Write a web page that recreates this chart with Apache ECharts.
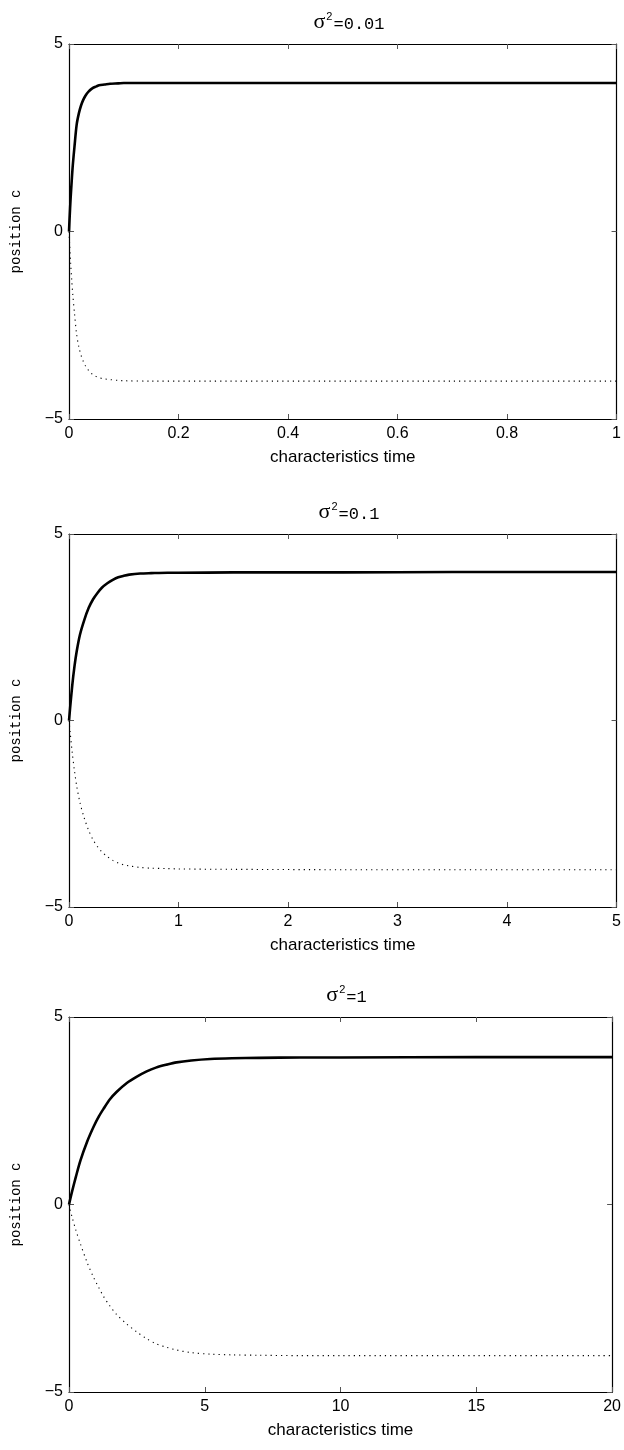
<!DOCTYPE html>
<html><head><meta charset="utf-8">
<script src="https://cdn.jsdelivr.net/npm/echarts@6/dist/echarts.min.js"></script>
<style>html,body{margin:0;padding:0;background:#fff}#c{width:624px;height:1450px}</style>
</head><body><div id="c"></div>
<script>
// ---- data ----
const sigmaLabels = ['0.01', '0.1', '1'];
const xMax = [1, 5, 20];
const xInterval = [0.2, 1, 5];
const yMin = -5, yMax = 5, yInterval = 5;
const xName = 'characteristics time';
const yName = 'position c';

const t1 = [0, 0.001, 0.003, 0.005, 0.007, 0.01, 0.014, 0.018, 0.022, 0.026, 0.03, 0.035, 0.04, 0.045, 0.05, 0.055, 0.065, 0.075, 0.09, 0.1, 0.15, 0.3, 0.5, 0.7, 1];
const s1 = [0, 0.33, 0.9, 1.36, 1.78, 2.26, 2.85, 3.15, 3.36, 3.51, 3.62, 3.72, 3.79, 3.84, 3.87, 3.9, 3.92, 3.94, 3.95, 3.96, 3.96, 3.96, 3.96, 3.96, 3.96];
const d1 = [0, -0.3, -0.85, -1.3, -1.7, -2.18, -2.75, -3.08, -3.3, -3.46, -3.58, -3.69, -3.77, -3.83, -3.87, -3.9, -3.93, -3.95, -3.97, -3.98, -3.99, -3.99, -3.99, -3.99, -3.99];

const t2 = [0, 0.01, 0.03, 0.05, 0.07, 0.1, 0.14, 0.18, 0.22, 0.26, 0.3, 0.35, 0.4, 0.45, 0.5, 0.55, 0.65, 0.75, 0.9, 1, 1.5, 2.5, 3.5, 5];
const s2 = [0, 0.33, 0.95, 1.45, 1.85, 2.3, 2.7, 3.02, 3.25, 3.42, 3.56, 3.68, 3.77, 3.84, 3.88, 3.91, 3.94, 3.95, 3.96, 3.96, 3.97, 3.97, 3.98, 3.98];
const d2 = [0, -0.3, -0.88, -1.35, -1.75, -2.2, -2.62, -2.95, -3.2, -3.38, -3.52, -3.65, -3.75, -3.82, -3.87, -3.9, -3.94, -3.96, -3.97, -3.98, -3.99, -4, -4, -4];

const t3 = [0, 0.1, 0.25, 0.42, 0.67, 0.91, 1.1, 1.27, 1.5, 1.75, 2.13, 2.5, 2.86, 3.2, 3.6, 3.96, 4.5, 5.2, 6, 7, 8.5, 10, 15, 20];
const s3 = [0, 0.31, 0.73, 1.17, 1.68, 2.08, 2.35, 2.55, 2.8, 3.0, 3.24, 3.41, 3.55, 3.65, 3.73, 3.79, 3.84, 3.88, 3.9, 3.91, 3.92, 3.92, 3.93, 3.93];
const d3 = [0, -0.3, -0.68, -1.05, -1.55, -1.95, -2.22, -2.45, -2.7, -2.93, -3.19, -3.4, -3.58, -3.71, -3.81, -3.88, -3.95, -3.99, -4.01, -4.02, -4.03, -4.03, -4.03, -4.03];

const times = [t1, t2, t3];
const solids = [s1, s2, s3];
const dotteds = [d1, d2, d3];

// ---- layout ----
const grids = [
  {left: 69, top: 44, width: 550, height: 375},
  {left: 69, top: 534, width: 550, height: 373},
  {left: 69, top: 1017, width: 545, height: 375}
];

const SANS = '"Liberation Sans", Arial, sans-serif';
const MONO = '"Liberation Mono", "DejaVu Sans Mono", monospace';
const SERIF = '"Liberation Serif", "DejaVu Serif", serif';

const axisLineStyle = {color: '#000', width: 1.2};
const tickStyle = {color: '#555', width: 1};

const xAxis = [], yAxis = [], series = [], title = [];
grids.forEach((g, i) => {
  xAxis.push({
    gridIndex: i, type: 'value', min: 0, max: xMax[i], interval: xInterval[i], position: 'bottom',
    axisLine: {show: true, onZero: false, lineStyle: axisLineStyle},
    axisTick: {show: true, inside: true, length: 5, lineStyle: tickStyle},
    axisLabel: {color: '#000', fontSize: 16, fontFamily: SANS, margin: 7, showMinLabel: true, showMaxLabel: true},
    splitLine: {show: false},
    name: xName, nameLocation: 'middle', nameGap: 30,
    nameTextStyle: {color: '#000', fontSize: 17, fontFamily: SANS}
  });
  xAxis.push({
    gridIndex: i, type: 'value', min: 0, max: xMax[i], interval: xInterval[i], position: 'top',
    axisLine: {show: true, onZero: false, lineStyle: axisLineStyle},
    axisTick: {show: true, inside: true, length: 5, lineStyle: tickStyle},
    axisLabel: {show: false}, splitLine: {show: false}
  });
  yAxis.push({
    gridIndex: i, type: 'value', min: yMin, max: yMax, interval: yInterval, position: 'left',
    axisLine: {show: true, onZero: false, lineStyle: axisLineStyle},
    axisTick: {show: true, inside: true, length: 5, lineStyle: tickStyle},
    axisLabel: {color: '#000', fontSize: 16, fontFamily: SANS, margin: 6, padding: [7, 0, 0, 0],
      formatter: v => v < 0 ? '\u2212' + Math.abs(v) : String(v)},
    splitLine: {show: false},
    name: yName, nameLocation: 'middle', nameGap: 46,
    nameTextStyle: {color: '#000', fontSize: 14, fontFamily: MONO}
  });
  yAxis.push({
    gridIndex: i, type: 'value', min: yMin, max: yMax, interval: yInterval, position: 'right',
    axisLine: {show: true, onZero: false, lineStyle: axisLineStyle},
    axisTick: {show: true, inside: true, length: 5, lineStyle: tickStyle},
    axisLabel: {show: false}, splitLine: {show: false}
  });
  const t = times[i];
  series.push({
    type: 'line', xAxisIndex: 2 * i, yAxisIndex: 2 * i, showSymbol: false, silent: true,
    smooth: 0.3,
    lineStyle: {color: '#000', width: 2.6, type: 'solid'},
    data: t.map((x, k) => [x, solids[i][k]])
  });
  series.push({
    type: 'line', xAxisIndex: 2 * i, yAxisIndex: 2 * i, showSymbol: false, silent: true,
    smooth: 0.3,
    lineStyle: {color: '#000', width: 1.1, type: [1.2, 4]},
    data: t.map((x, k) => [x, dotteds[i][k]])
  });
  title.push({
    text: '{s|\u03c3}{p|2}{m|=' + sigmaLabels[i] + '}',
    left: g.left + g.width / 2, textAlign: 'center', top: g.top - 38,
    textStyle: {fontWeight: 'normal', rich: {
      s: {fontFamily: SERIF, fontSize: 22, fontWeight: 'normal', color: '#000', verticalAlign: 'bottom'},
      p: {fontFamily: SANS, fontSize: 11, fontWeight: 'normal', color: '#000', verticalAlign: 'top', padding: [0, 1, 0, 1]},
      m: {fontFamily: MONO, fontSize: 17, fontWeight: 'normal', color: '#000', verticalAlign: 'bottom'}
    }}
  });
});

const chart = echarts.init(document.getElementById('c'), null, {renderer: 'canvas'});
chart.setOption({
  animation: false,
  backgroundColor: '#fff',
  title: title,
  grid: grids,
  xAxis: xAxis,
  yAxis: yAxis,
  series: series
});
</script>
</body></html>
